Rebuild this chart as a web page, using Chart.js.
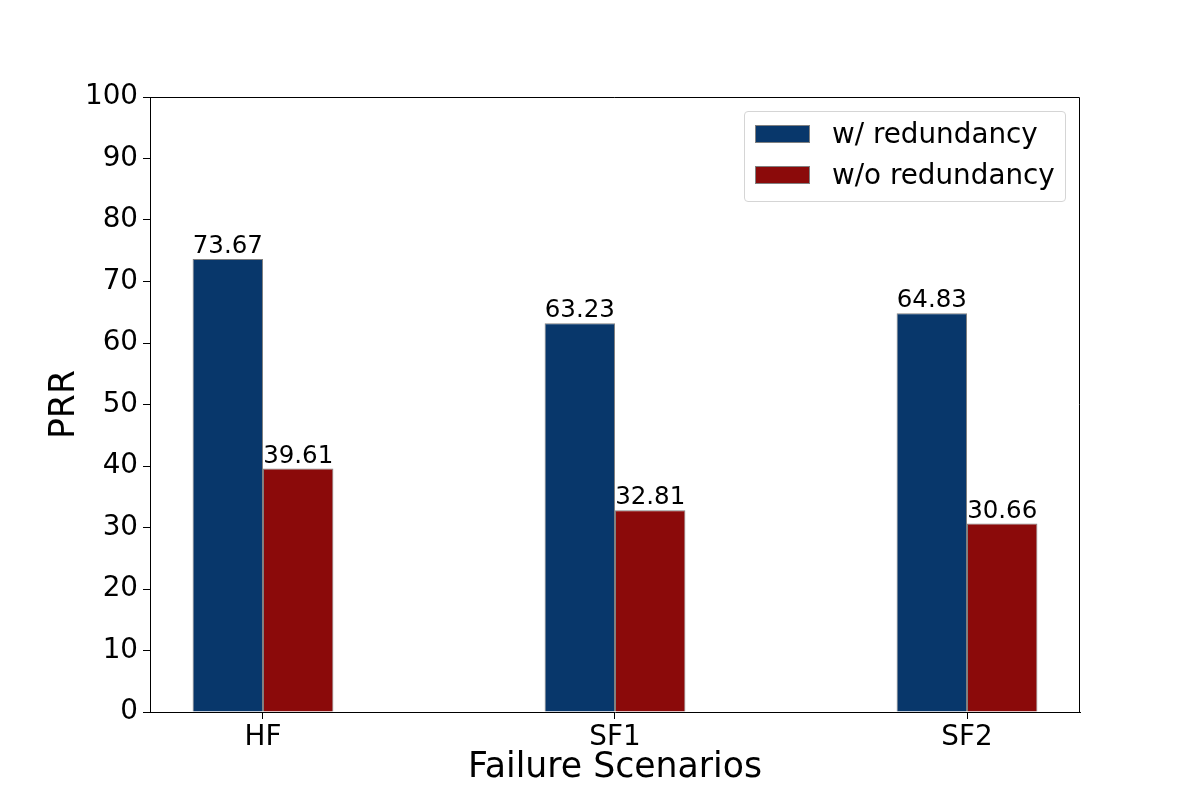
<!DOCTYPE html>
<html>
<head>
<meta charset="utf-8">
<script src="https://cdn.jsdelivr.net/npm/chart.js@4/dist/chart.umd.min.js"></script>
<style>
  html, body { margin: 0; padding: 0; background: #fff; }
  #wrap { position: relative; width: 1200px; height: 800px; }
  #legend { position: absolute; left: 744px; top: 111px; width: 320px; height: 89px;
    border: 1px solid #d5d5d5; border-radius: 4px; background: rgba(255,255,255,0.8);
    font-family: "DejaVu Sans", sans-serif; font-size: 27.8px; color: #000; box-sizing: content-box; }
  .item { position: absolute; left: 10px; height: 19px; display: flex; align-items: center; }
  .sw { width: 55px; height: 18px; border: 1px solid #808080; box-sizing: border-box; }
  .lt { position: absolute; left: 77px; white-space: nowrap; line-height: 1; }
</style>
</head>
<body>
<div id="wrap">
  <canvas id="c" width="1200" height="800"></canvas>
  <div id="legend"></div>
</div>
<script>
const categories = ["HF", "SF1", "SF2"];
const seriesLabels = ["w/ redundancy", "w/o redundancy"];
const withRedundancy = [73.67, 63.23, 64.83];
const withoutRedundancy = [39.61, 32.81, 30.66];
const yTicks = [0, 10, 20, 30, 40, 50, 60, 70, 80, 90, 100];
const colors = ["#08376b", "#8b0a0a"];

const FONT = '"DejaVu Sans", sans-serif';

function toPoints(vals) { return vals.map((v, i) => ({ x: i, y: v })); }

const dataLabels = {
  id: 'dataLabels',
  afterDatasetsDraw(chart) {
    const ctx = chart.ctx;
    ctx.save();
    ctx.font = '24.5px ' + FONT;
    ctx.fillStyle = '#000';
    ctx.textAlign = 'center';
    ctx.textBaseline = 'bottom';
    chart.data.datasets.forEach((ds, di) => {
      const meta = chart.getDatasetMeta(di);
      meta.data.forEach((el, i) => {
        ctx.fillText(ds.data[i].y.toFixed(2), el.x, el.y);
      });
    });
    ctx.restore();
  }
};

const frame = {
  id: 'frame',
  afterDraw(chart) {
    const a = chart.chartArea, ctx = chart.ctx;
    ctx.save();
    ctx.strokeStyle = '#000';
    ctx.lineWidth = 1;
    ctx.beginPath();
    ctx.moveTo(a.left, a.top + 0.5);
    ctx.lineTo(a.right - 0.5, a.top + 0.5);
    ctx.lineTo(a.right - 0.5, a.bottom);
    ctx.stroke();
    ctx.restore();
  }
};

new Chart(document.getElementById('c'), {
  type: 'bar',
  data: {
    datasets: [
      { label: seriesLabels[0], data: toPoints(withRedundancy), backgroundColor: colors[0],
        borderColor: '#808080', borderWidth: 1, categoryPercentage: 0.4, barPercentage: 1.0 },
      { label: seriesLabels[1], data: toPoints(withoutRedundancy), backgroundColor: colors[1],
        borderColor: '#808080', borderWidth: 1, categoryPercentage: 0.4, barPercentage: 1.0 }
    ]
  },
  options: {
    responsive: false,
    animation: false,
    devicePixelRatio: 1,
    layout: { padding: { top: 97, right: 120, left: 0, bottom: 0 } },
    plugins: { legend: { display: false }, tooltip: { enabled: false } },
    scales: {
      x: {
        type: 'linear',
        min: -0.321, max: 2.321,
        offset: false,
        afterBuildTicks(scale) { scale.ticks = categories.map((c, i) => ({ value: i })); },
        afterFit(scale) { scale.height = 88; },
        ticks: {
          callback: (v) => categories[v] !== undefined ? categories[v] : '',
          font: { family: FONT, size: 27.8 }, color: '#000', padding: 2, maxRotation: 0, autoSkip: false
        },
        grid: { offset: false, drawOnChartArea: false, drawTicks: true, tickLength: 7, tickWidth: 1, tickColor: '#000', color: '#000' },
        border: { display: true, color: '#000', width: 1 },
        title: { display: true, text: 'Failure Scenarios', font: { family: FONT, size: 34.7 }, color: '#000',
          padding: { top: 0, bottom: 11 } }
      },
      y: {
        min: 0, max: 100,
        afterBuildTicks(scale) { scale.ticks = yTicks.map(v => ({ value: v })); },
        afterFit(scale) { scale.width = 150; },
        ticks: { font: { family: FONT, size: 27.8 }, color: '#000', padding: 5 },
        grid: { offset: false, drawOnChartArea: false, drawTicks: true, tickLength: 7, color: '#000' },
        border: { display: true, color: '#000', width: 1 },
        title: { display: true, text: 'PRR', font: { family: FONT, size: 34.7 }, color: '#000',
          padding: { top: 44, bottom: 0 } }
      }
    }
  },
  plugins: [dataLabels, frame]
});

const legend = document.getElementById('legend');
seriesLabels.forEach((lab, i) => {
  const it = document.createElement('div');
  it.className = 'item';
  it.style.top = (12 + i * 41) + 'px';
  const sw = document.createElement('div');
  sw.className = 'sw';
  sw.style.background = colors[i];
  const t = document.createElement('span');
  t.className = 'lt';
  t.textContent = lab;
  it.appendChild(sw);
  it.appendChild(t);
  legend.appendChild(it);
});
</script>
</body>
</html>
